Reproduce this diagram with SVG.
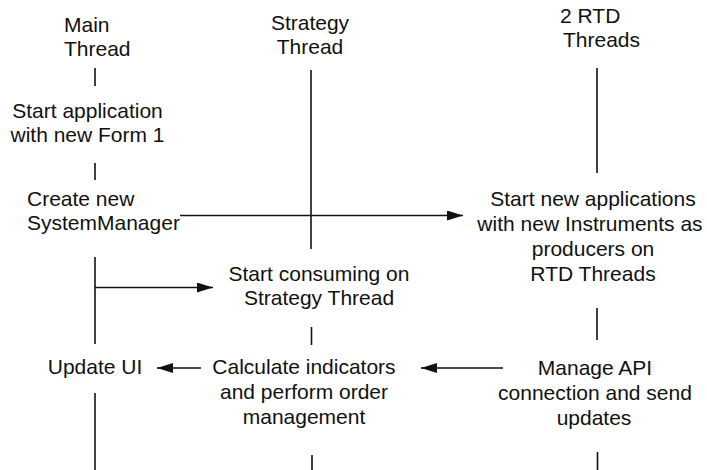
<svg xmlns="http://www.w3.org/2000/svg" width="707" height="470" viewBox="0 0 707 470">
<defs>
<style>
text{font-family:"Liberation Sans",Arial,Helvetica,sans-serif;font-size:21px;fill:#111;}
.c{text-anchor:middle;}
.life{stroke:#111;stroke-width:1.6;fill:none;}
.msg{stroke:#111;stroke-width:1.3;fill:none;}
</style>
<marker id="ah" viewBox="0 0 16 10" refX="16" refY="5" markerWidth="16" markerHeight="10" markerUnits="userSpaceOnUse" orient="auto">
<path d="M0,0 L16,5 L0,10 Z" fill="#111"/>
</marker>
</defs>
<rect width="707" height="470" fill="#fff"/>
<g id="connectors">
<line class="life" x1="95" y1="68" x2="95" y2="86"/>
<line class="life" x1="95" y1="163" x2="95" y2="180"/>
<line class="life" x1="95" y1="257" x2="95" y2="344"/>
<line class="life" x1="95" y1="393" x2="95" y2="470"/>
<line class="life" x1="311" y1="70" x2="311" y2="249"/>
<line class="life" x1="311.5" y1="327" x2="311.5" y2="345"/>
<line class="life" x1="312" y1="455" x2="312" y2="470"/>
<line class="life" x1="597" y1="68" x2="597" y2="173"/>
<line class="life" x1="597" y1="308" x2="597" y2="340"/>
<line class="life" x1="597.5" y1="452" x2="597.5" y2="470"/>
<line class="msg" x1="180" y1="215.5" x2="463" y2="215.5" marker-end="url(#ah)"/>
<line class="msg" x1="95" y1="287.5" x2="213" y2="287.5" marker-end="url(#ah)"/>
<line class="msg" x1="503" y1="368" x2="421" y2="368" marker-end="url(#ah)"/>
<line class="msg" x1="201" y1="368" x2="157" y2="368" marker-end="url(#ah)"/>
</g>
<g id="main-thread"><text x="64" y="32">Main</text><text x="64" y="56">Thread</text></g>
<g id="strategy-thread"><text class="c" x="310" y="30">Strategy</text><text class="c" x="310" y="54">Thread</text></g>
<g id="rtd-threads"><text x="560" y="23">2 RTD</text><text x="563" y="47">Threads</text></g>
<g id="start-app"><text class="c" x="87.5" y="118">Start application</text><text class="c" x="87.5" y="142">with new Form 1</text></g>
<g id="create-sm"><text x="27" y="206">Create new</text><text x="27" y="230">SystemManager</text></g>
<g id="start-new-apps"><text class="c" x="593" y="206">Start new applications</text><text class="c" x="590" y="231">with new Instruments as</text><text class="c" x="593" y="256">producers on</text><text class="c" x="593" y="281">RTD Threads</text></g>
<g id="start-consuming"><text class="c" x="319" y="281">Start consuming on</text><text class="c" x="319" y="305">Strategy Thread</text></g>
<g id="update-ui"><text class="c" x="95" y="374">Update UI</text></g>
<g id="calculate"><text class="c" x="304" y="374">Calculate indicators</text><text class="c" x="304" y="399">and perform order</text><text class="c" x="304" y="424">management</text></g>
<g id="manage-api"><text class="c" x="595" y="375">Manage API</text><text class="c" x="595" y="400">connection and send</text><text class="c" x="594" y="425">updates</text></g>
</svg>
